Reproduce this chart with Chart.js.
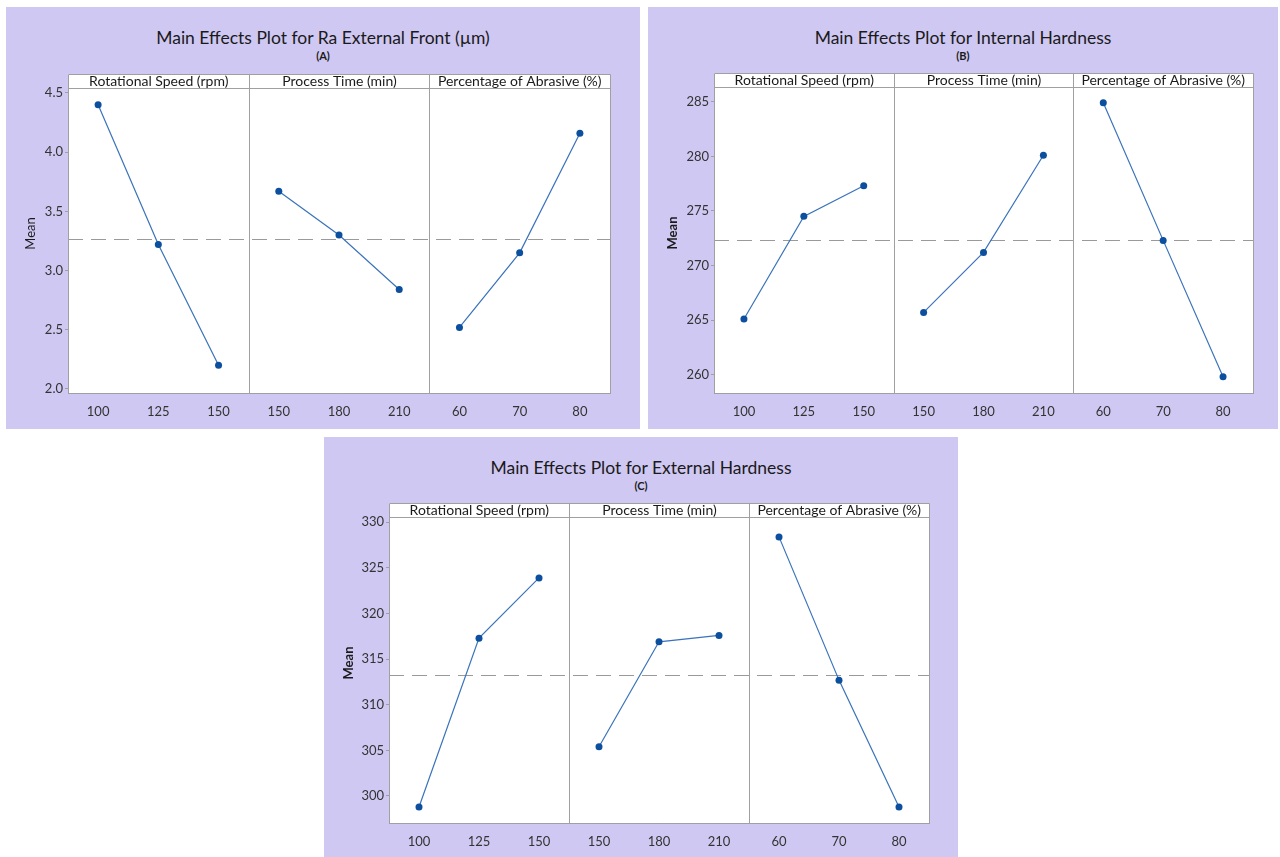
<!DOCTYPE html>
<html>
<head>
<meta charset="utf-8">
<script src="https://cdn.jsdelivr.net/npm/chart.js@4.4.1/dist/chart.umd.min.js"></script>
<style>
  body { margin: 0; background: #fff; width: 1280px; height: 857px; position: relative; overflow: hidden; }
  .panel { position: absolute; background: #cfc8f2; }
  .panel canvas { position: absolute; left: 0; top: 0; }
  .title { position: absolute; left: 0; right: 0; text-align: center; color: #1a1a1a;
           font-family: Lato, "Open Sans", sans-serif; font-size: 17.5px; line-height: 20px; top: 21px; }
  .sub { position: absolute; left: 0; right: 0; text-align: center; color: #1a1a1a;
         font-family: Lato, "Open Sans", sans-serif; font-weight: bold; font-size: 11px; line-height: 14px; top: 42px; }
</style>
</head>
<body>
<div class="panel" id="pA" style="left:6px;top:7px;width:634px;height:422px;">
  <div class="title">Main Effects Plot for Ra External Front (µm)</div>
  <div class="sub">(A)</div>
  <canvas id="cA" width="634" height="422"></canvas>
</div>
<div class="panel" id="pB" style="left:648px;top:7px;width:630px;height:422px;">
  <div class="title">Main Effects Plot for Internal Hardness</div>
  <div class="sub">(B)</div>
  <canvas id="cB" width="630" height="422"></canvas>
</div>
<div class="panel" id="pC" style="left:324px;top:437px;width:634px;height:420px;">
  <div class="title">Main Effects Plot for External Hardness</div>
  <div class="sub">(C)</div>
  <canvas id="cC" width="634" height="420"></canvas>
</div>

<script>
// factors and levels
const factorNames = ['Rotational Speed (rpm)', 'Process Time (min)', 'Percentage of Abrasive (%)'];
const speedLevels = ['100', '125', '150'];
const timeLevels = ['150', '180', '210'];
const abrasiveLevels = ['60', '70', '80'];

// (A) Ra external front, µm
const raSpeed = [4.40, 3.22, 2.20];
const raTime = [3.67, 3.30, 2.84];
const raAbrasive = [2.52, 3.15, 4.16];
const raMean = 3.27;
const raTicks = [2.0, 2.5, 3.0, 3.5, 4.0, 4.5];

// (B) internal hardness
const intSpeed = [265.1, 274.5, 277.3];
const intTime = [265.7, 271.2, 280.1];
const intAbrasive = [284.9, 272.3, 259.8];
const intMean = 272.3;
const intTicks = [260, 265, 270, 275, 280, 285];

// (C) external hardness
const extSpeed = [298.8, 317.3, 323.9];
const extTime = [305.4, 316.9, 317.6];
const extAbrasive = [328.4, 312.7, 298.8];
const extMean = 313.3;
const extTicks = [300, 305, 310, 315, 320, 325, 330];

const LINE = '#3a73bb';
const DOT = '#0b4f9e';
const FRAME = '#a0a0a0';
const TXT = '#333';
const FONT = 'Lato, "Open Sans", sans-serif';
const STRIP = 14;

const effectsPlugin = {
  id: 'effects',
  beforeDraw(chart) {
    const { ctx, chartArea: a } = chart;
    ctx.save();
    ctx.fillStyle = '#fff';
    ctx.fillRect(a.left, a.top, a.right - a.left, a.bottom - a.top);
    ctx.restore();
  },
  beforeDatasetsDraw(chart, args, opts) {
    const { ctx, chartArea: a, scales: { y } } = chart;
    ctx.save();
    // reference line at the overall mean
    ctx.strokeStyle = '#9a9a9a';
    ctx.lineWidth = 1;
    ctx.setLineDash([15, 8]);
    const ym = Math.round(y.getPixelForValue(opts.mean)) + 0.5;
    ctx.beginPath(); ctx.moveTo(a.left, ym); ctx.lineTo(a.right, ym); ctx.stroke();
    ctx.restore();
  },
  afterDatasetsDraw(chart, args, opts) {
    const { ctx, chartArea: a, scales: { x } } = chart;
    ctx.save();
    ctx.strokeStyle = FRAME;
    ctx.lineWidth = 1;
    const cuts = [a.left];
    for (let k = 1; k < 3; k++) {
      cuts.push(Math.round((x.getPixelForValue(3 * k - 1) + x.getPixelForValue(3 * k)) / 2) + 0.5);
    }
    cuts.push(a.right);
    // header strips
    const top = a.top - STRIP;
    ctx.fillStyle = '#fff';
    ctx.fillRect(a.left, top, a.right - a.left, STRIP);
    ctx.beginPath();
    ctx.rect(Math.round(a.left) + 0.5, Math.round(top) + 0.5, Math.round(a.right - a.left), Math.round(a.bottom - top));
    ctx.moveTo(a.left, Math.round(a.top) + 0.5); ctx.lineTo(a.right, Math.round(a.top) + 0.5);
    cuts.slice(1, 3).forEach(c => { ctx.moveTo(c, top); ctx.lineTo(c, a.bottom); });
    ctx.stroke();
    ctx.fillStyle = '#1a1a1a';
    ctx.font = '14px ' + FONT;
    ctx.textAlign = 'center';
    ctx.textBaseline = 'middle';
    for (let k = 0; k < 3; k++) {
      ctx.fillText(factorNames[k], (cuts[k] + cuts[k + 1]) / 2, top + STRIP / 2 + 0.5);
    }
    // y axis title
    ctx.translate(25, (top + a.bottom) / 2);
    ctx.rotate(-Math.PI / 2);
    ctx.font = (opts.boldTitle ? 'bold ' : '') + '13px ' + FONT;
    ctx.fillText('Mean', 0, 0);
    ctx.restore();
  }
};

function slot(values, k) {
  const d = Array(9).fill(null);
  values.forEach((v, i) => { d[3 * k + i] = v; });
  return d;
}

function makePanel(id, series, mean, ticks, min, max, decimals, box, boldTitle) {
  const labels = [...speedLevels, ...timeLevels, ...abrasiveLevels];
  new Chart(document.getElementById(id), {
    type: 'line',
    data: {
      labels,
      datasets: series.map((s, k) => ({
        data: slot(s, k),
        borderColor: LINE,
        borderWidth: 1.2,
        pointRadius: 3.5,
        pointBackgroundColor: DOT,
        pointBorderColor: DOT,
        pointBorderWidth: 0,
        tension: 0
      }))
    },
    options: {
      responsive: false,
      animation: false,
      layout: { padding: { top: box.top, right: box.right, left: 0, bottom: 0 } },
      scales: {
        x: {
          type: 'category',
          offset: true,
          grid: { display: false },
          border: { color: FRAME },
          ticks: { color: TXT, font: { family: FONT, size: 13 }, padding: 3, autoSkip: false, maxRotation: 0 },
          afterFit: s => { s.height = box.xh; }
        },
        y: {
          min, max,
          afterBuildTicks: s => { s.ticks = ticks.map(v => ({ value: v })); },
          grid: { drawOnChartArea: false, tickLength: 3, color: FRAME },
          border: { color: FRAME },
          ticks: { color: TXT, font: { family: FONT, size: 13 }, padding: 2, callback: v => v.toFixed(decimals) },
          afterFit: s => { s.width = box.yw; }
        }
      },
      plugins: {
        legend: { display: false },
        tooltip: { enabled: false },
        effects: { mean, boldTitle }
      }
    },
    plugins: [effectsPlugin]
  });
}

makePanel('cA', [raSpeed, raTime, raAbrasive], raMean, raTicks, 1.966, 4.542, 1,
  { top: 81, right: 30, yw: 62, xh: 36 }, false);
makePanel('cB', [intSpeed, intTime, intAbrasive], intMean, intTicks, 258.32, 286.35, 0,
  { top: 80, right: 25, yw: 66, xh: 36 }, true);
makePanel('cC', [extSpeed, extTime, extAbrasive], extMean, extTicks, 297.04, 330.58, 0,
  { top: 80, right: 29, yw: 65, xh: 34 }, true);
</script>
</body>
</html>
